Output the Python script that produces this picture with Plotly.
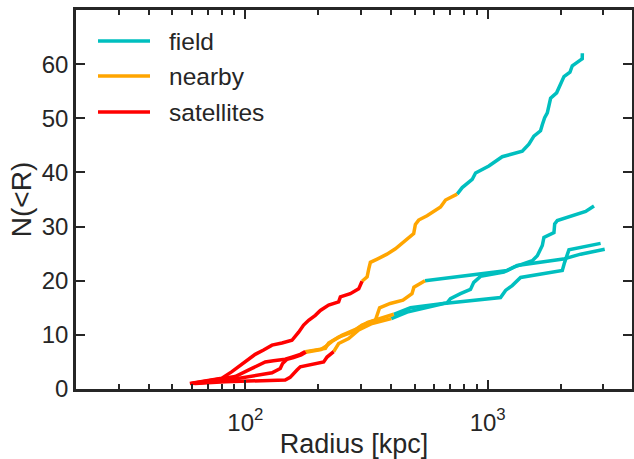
import math
import plotly.graph_objects as go

# ---------------- data ----------------
categories = ["field", "nearby", "satellites"]
cat_colors = {"field": "#00BFBF", "nearby": "#FFA500", "satellites": "#FF0000"}

# Curve A (top)
A_r = [59, 80, 88, 93.7, 101.5, 109.8, 118.9, 128.8, 141.6, 155.7, 165.9, 173.9, 182.4,
       194.4, 203.9, 220.6, 242.6, 246.6, 271, 293.6, 303, 318, 323, 328, 350, 384, 416,
       436, 465, 495, 503, 519, 562, 609, 639, 670, 714, 748, 785, 863, 891, 1011, 1078,
       1148, 1389, 1479, 1551, 1652, 1680, 1718, 1762, 1818, 1925, 2064, 2185, 2234, 2419,
       2455, 2458]
A_n = [1, 2, 3.2, 4.1, 5.3, 6.4, 7.2, 8.1, 8.5, 9.0, 10.5, 11.8, 12.7,
       13.6, 14.5, 15.5, 16.1, 17.0, 17.6, 18.5, 19.9, 20.7, 22.2, 23.4, 24.0, 24.9, 25.9,
       26.7, 27.7, 28.7, 30.4, 31.2, 32.0, 32.9, 33.6, 34.9, 35.5, 36.0, 37.2, 38.7, 39.9, 41.2, 42.0,
       42.9, 43.9, 45.2, 46.7, 47.7, 48.8, 50.1, 51.0, 53.7, 54.7, 57.7, 58.5, 59.7, 60.8,
       61.0, 62.0]
A_rsat, A_rnear = 303, 748

# Curve B (ends near 26)
B_r = [60, 90.8, 106.4, 120.8, 130.6, 146, 155.6, 168.5, 176.7, 213.8, 220.6, 242.6, 275.6,
       303, 344, 352, 358, 396, 447, 487, 496, 551, 1205, 1323, 2051, 2419, 3040]
B_n = [1, 2.3, 3.8, 5.0, 5.2, 5.5, 5.9, 6.4, 6.9, 7.5, 8.5, 9.6, 10.5,
       11.8, 12.7, 13.8, 15.0, 15.8, 16.4, 17.6, 18.8, 20.0, 21.9, 22.8, 24.0, 24.9, 25.8]
B_rsat, B_rnear = 176.7, 551

# Curve C (ends near 34)
C_r = [61, 85.2, 128.8, 139.3, 142.4, 148.5, 158, 170, 177.5, 205, 215, 228, 250, 285, 320,
       350, 409.5, 480, 680, 702, 772, 849, 876, 934, 1166, 1282, 1528, 1602, 1680, 1706,
       1877, 1890, 1937, 2537, 2746]
C_n = [1, 1.65, 3.0, 3.8, 4.7, 5.5, 5.8, 6.3, 6.8, 7.3, 7.9, 8.8, 9.9, 11.0, 12.3,
       12.9, 13.8, 15.0, 15.9, 16.7, 17.6, 18.4, 19.7, 20.8, 21.6, 22.5, 23.7, 24.6, 26.5, 28.0,
       28.9, 30.5, 31.1, 32.8, 33.8]
C_rsat, C_rnear = 177.5, 409.5

# Curve D (ends near 27)
D_r = [62, 82.5, 146, 153, 163.3, 168.5, 210.4, 217.3, 231.4, 242.6, 266.8, 293.6, 333.4,
       400, 465, 659, 905, 1130, 1185, 1262, 1367, 2032, 2077, 2164, 2924]
D_n = [1, 1.35, 1.65, 2.15, 3.5, 4.1, 5.0, 5.9, 6.9, 8.4, 9.3, 10.9, 12.1,
       13.0, 14.2, 15.8, 16.4, 16.9, 18.2, 19.1, 20.6, 21.9, 23.4, 25.7, 26.9]
D_rsat, D_rnear = 231.4, 400

curves = [
    (A_r, A_n, A_rsat, A_rnear),
    (B_r, B_n, B_rsat, B_rnear),
    (C_r, C_n, C_rsat, C_rnear),
    (D_r, D_n, D_rsat, D_rnear),
]

x_tickvals = [100, 1000]
x_ticktext = ["10<sup>2</sup>", "10<sup>3</sup>"]
x_minor = [20, 30, 40, 50, 60, 70, 80, 90, 200, 300, 400, 500, 600, 700, 800, 900, 2000, 3000]
y_tickvals = [0, 10, 20, 30, 40, 50, 60]

# ---------------- figure ----------------
FONT = "Liberation Sans, Arial, sans-serif"
TXT = "#262626"
LW = 3.5

fig = go.Figure()

# draw in order: field, nearby, satellites (satellites on top)
for cat in ["field", "nearby", "satellites"]:
    for r, n, rsat, rnear in curves:
        if cat == "satellites":
            sel = [i for i, v in enumerate(r) if v <= rsat]
        elif cat == "nearby":
            sel = [i for i, v in enumerate(r) if rsat <= v <= rnear]
        else:
            sel = [i for i, v in enumerate(r) if v >= rnear]
        fig.add_trace(go.Scatter(
            x=[r[i] for i in sel], y=[n[i] for i in sel], mode="lines",
            line=dict(color=cat_colors[cat], width=LW), showlegend=False,
            hoverinfo="skip"))

# Legend drawn manually to match the long legend handles
x0 = math.log10(20)
x1 = math.log10(3940)
plot_l, plot_r, plot_t, plot_b = 76, 632, 10, 389
W = plot_r - plot_l
H = plot_b - plot_t
leg_rows = [41, 76, 112]
for cat, py in zip(categories, leg_rows):
    yp = (plot_b - py) / H
    fig.add_shape(type="line", xref="paper", yref="paper",
                  x0=(98 - plot_l) / W, x1=(150 - plot_l) / W, y0=yp, y1=yp,
                  line=dict(color=cat_colors[cat], width=LW))
    fig.add_annotation(xref="paper", yref="paper", x=(167 - plot_l) / W, y=yp,
                       text=cat, showarrow=False, xanchor="left", yanchor="middle",
                       font=dict(family=FONT, size=24.5, color=TXT))

axis_common = dict(showline=True, linewidth=2.5, linecolor=TXT, mirror="allticks",
                   ticks="inside", ticklen=9, tickwidth=2, tickcolor=TXT,
                   showgrid=False, zeroline=False, automargin=False,
                   tickfont=dict(family=FONT, size=24, color=TXT))

fig.update_layout(
    width=634, height=459,
    margin=dict(l=plot_l, r=634 - plot_r, t=plot_t, b=459 - plot_b),
    paper_bgcolor="white", plot_bgcolor="white",
    showlegend=False,
    xaxis=dict(type="log", range=[x0, x1], tickmode="array",
               tickvals=x_tickvals, ticktext=x_ticktext,
               ticklabelstandoff=10,
               minor=dict(tickmode="array", tickvals=x_minor, ticks="inside",
                          ticklen=5, tickwidth=1.5, tickcolor=TXT),
               title=dict(text="Radius [kpc]", font=dict(family=FONT, size=27, color=TXT),
                          standoff=4),
               **axis_common),
    yaxis=dict(range=[0, 70], tickmode="array", tickvals=y_tickvals,
               title=dict(text="N(&lt;R)", font=dict(family=FONT, size=28, color=TXT),
                          standoff=2),
               **axis_common),
)

fig.write_html("out.html")
